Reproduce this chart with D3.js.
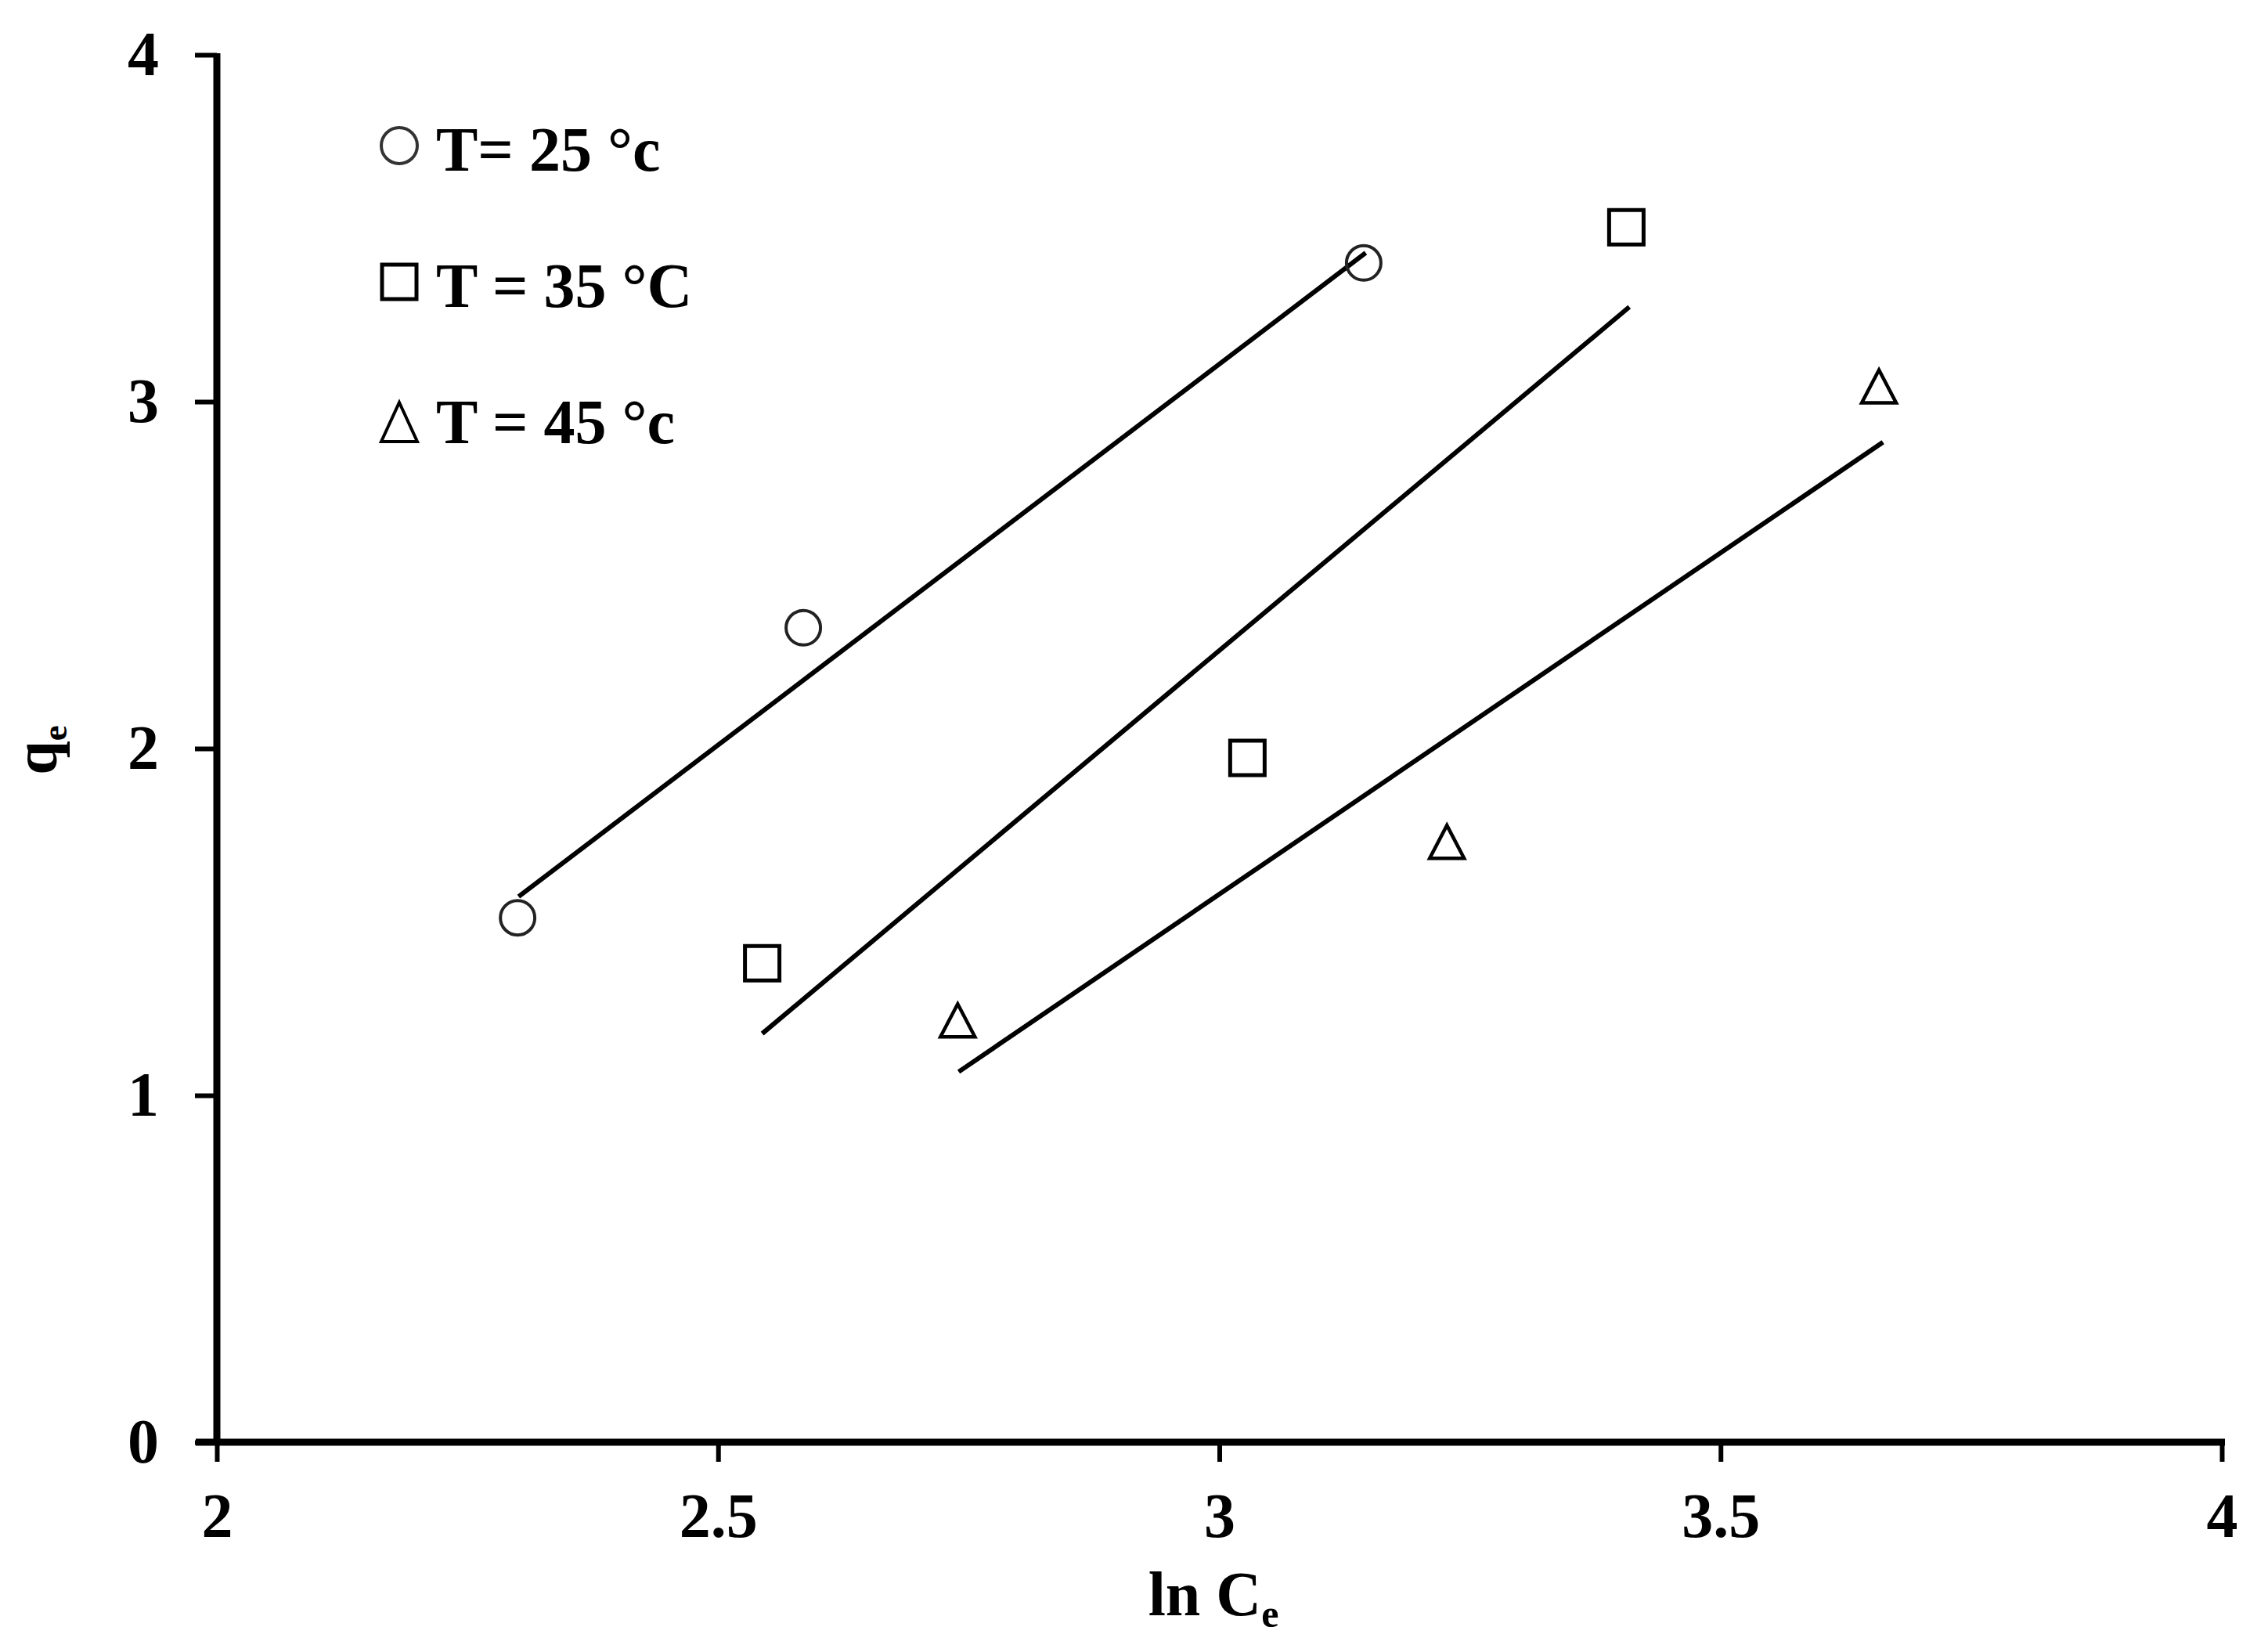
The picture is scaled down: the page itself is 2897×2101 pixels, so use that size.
<!DOCTYPE html>
<html>
<head>
<meta charset="utf-8">
<script src="https://cdn.jsdelivr.net/npm/d3@7/dist/d3.min.js"></script>
<style>
  html, body { margin: 0; padding: 0; background: #fff; }
  svg { display: block; }
</style>
</head>
<body>
<svg id="chart" width="2897" height="2101"></svg>
<script>
// ---- data ----
const seriesLabels = ["T= 25 \u00B0c", "T = 35 \u00B0C", "T = 45 \u00B0c"];
const seriesShapes = ["circle", "square", "triangle"];

const lnCe25 = [2.300, 2.585, 3.144];
const qe25   = [1.512, 2.348, 3.400];
const lnCe35 = [2.544, 3.028, 3.406];
const qe35   = [1.381, 1.973, 3.503];
const lnCe45 = [2.739, 3.227, 3.658];
const qe45   = [1.216, 1.731, 3.044];

// fitted lines: [start, end] in data units
const fit25 = [[2.301, 1.573], [3.146, 3.429]];
const fit35 = [[2.544, 1.178], [3.409, 3.273]];
const fit45 = [[2.740, 1.068], [3.662, 2.883]];

const xTicks = [2, 2.5, 3, 3.5, 4];
const yTicks = [0, 1, 2, 3, 4];
const xDomain = [2, 4];
const yDomain = [0, 4];

// ---- layout ----
const FONT = "'Liberation Serif', 'Times New Roman', serif";
const svg = d3.select("#chart");
const x = d3.scaleLinear().domain(xDomain).range([277, 2838]);
const y = d3.scaleLinear().domain(yDomain).range([1842, 70]);

// axes
const xAxis = svg.append("g")
  .attr("transform", `translate(0,${y(0)})`)
  .call(d3.axisBottom(x).tickValues(xTicks).tickSizeOuter(0).tickSize(25)
        .tickFormat(d3.format("")));
const yAxis = svg.append("g")
  .attr("transform", `translate(${x(2)},0)`)
  .call(d3.axisLeft(y).tickValues(yTicks).tickSizeOuter(0).tickSize(28)
        .tickFormat(d3.format("")));

[xAxis, yAxis].forEach(g => {
  g.select(".domain").attr("stroke", "#000").attr("stroke-width", 9);
  g.selectAll(".tick line").attr("stroke", "#000").attr("stroke-width", 6);
  g.selectAll(".tick text")
    .attr("fill", "#000")
    .style("font-family", FONT)
    .style("font-weight", "bold")
    .style("font-size", "80px");
});
// extend domains slightly like the reference
xAxis.select(".domain").attr("d", `M${x(2) - 27},0H${x(4) + 4}`);
yAxis.select(".domain").attr("d", `M0,${y(4) - 2}V${y(0) + 4}`);
xAxis.selectAll(".tick text").attr("y", 121).attr("dy", null);
yAxis.selectAll(".tick text").attr("x", -74).attr("dy", "0.32em");

// axis titles
const xTitle = svg.append("text")
  .attr("x", 1550).attr("y", 2063)
  .attr("text-anchor", "middle")
  .style("font-family", FONT).style("font-weight", "bold").style("font-size", "80px");
xTitle.append("tspan").text("ln C");
xTitle.append("tspan").attr("dy", 15).style("font-size", "50px").text("e");

const yTitle = svg.append("text")
  .attr("transform", "translate(72,958) rotate(-90)")
  .attr("text-anchor", "middle")
  .style("font-family", FONT).style("font-weight", "bold").style("font-size", "78px");
yTitle.append("tspan").text("q");
yTitle.append("tspan").attr("dy", 13).style("font-size", "45px").text("e");

// fit lines
const line = d3.line().x(d => x(d[0])).y(d => y(d[1]));
[fit25, fit35, fit45].forEach(f => {
  svg.append("path").attr("d", line(f))
    .attr("fill", "none").attr("stroke", "#000").attr("stroke-width", 6);
});

// marker shapes
function markerPath(shape, w, h) {
  if (shape === "circle") {
    return d3.symbol().type(d3.symbolCircle).size(Math.PI * (w / 2) * (w / 2))();
  }
  if (shape === "square") {
    return d3.symbol().type(d3.symbolSquare).size(w * w)();
  }
  const p = d3.path();
  p.moveTo(0, -h / 2); p.lineTo(w / 2, h / 2); p.lineTo(-w / 2, h / 2); p.closePath();
  return p.toString();
}

const seriesX = [lnCe25, lnCe35, lnCe45];
const seriesY = [qe25, qe35, qe45];
const markerSize = { circle: [44, 44], square: [44, 44], triangle: [44, 42] };
const markerStroke = { circle: 4, square: 5, triangle: 4.5 };

seriesShapes.forEach((shape, i) => {
  const pts = seriesX[i].map((v, j) => [v, seriesY[i][j]]);
  svg.append("g").selectAll("path").data(pts).join("path")
    .attr("transform", d => `translate(${x(d[0])},${y(d[1])})`)
    .attr("d", markerPath(shape, ...markerSize[shape]))
    .attr("fill", "none")
    .attr("stroke", shape === "circle" ? "#222" : "#000")
    .attr("stroke-width", markerStroke[shape]);
});

// legend
const legend = svg.append("g");
const legendSize = { circle: [46, 46], square: [44, 44], triangle: [46, 50] };
seriesLabels.forEach((lab, i) => {
  const baseY = 218 + i * 174;
  const shape = seriesShapes[i];
  const cy = shape === "triangle" ? baseY - 27 : baseY - 32;
  legend.append("path")
    .attr("transform", `translate(510,${cy})`)
    .attr("d", markerPath(shape, ...legendSize[shape]))
    .attr("fill", "none")
    .attr("stroke", shape === "circle" ? "#333" : "#000")
    .attr("stroke-width", shape === "square" ? 5 : 4);
  legend.append("text")
    .attr("x", 557).attr("y", baseY)
    .style("font-family", FONT).style("font-weight", "bold").style("font-size", "80px")
    .text(lab);
});
</script>
</body>
</html>
